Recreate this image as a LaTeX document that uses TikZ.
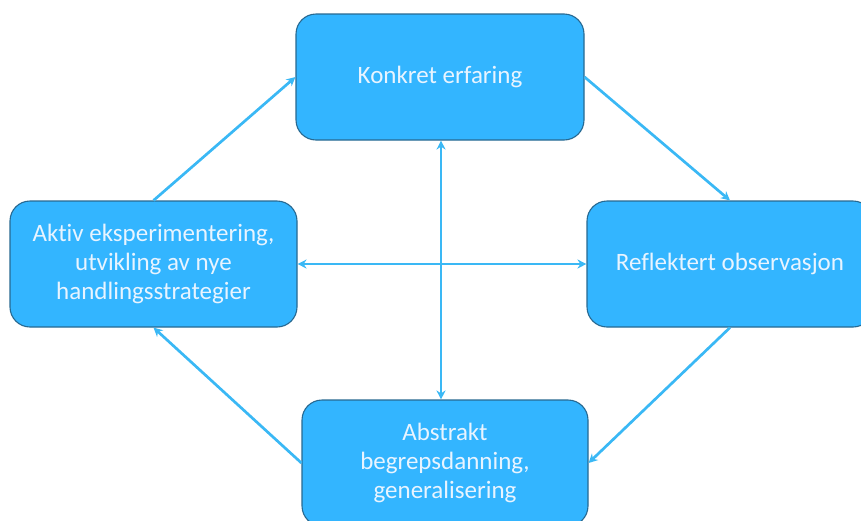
\documentclass[tikz,border=0pt]{standalone}
\usepackage{fontspec}
\setmainfont{Carlito}[Ligatures=NoCommon]
\usetikzlibrary{arrows.meta}
\definecolor{boxfill}{RGB}{51,181,255}
\definecolor{boxline}{RGB}{40,105,145}
\definecolor{arrowblue}{RGB}{58,184,245}
\definecolor{boxtext}{RGB}{232,244,255}
\begin{document}
\begin{tikzpicture}[x=1pt,y=-1pt,
  stage/.style={draw=boxline, line width=1.1pt, fill=boxfill, rounded corners=20pt,
    text=boxtext, align=center, font=\fontsize{25}{29}\selectfont,
    inner sep=0pt, minimum height=126pt},
  link/.style={draw=arrowblue, line width=2.7pt, -{Stealth[length=9pt,width=9pt]}},
  twoway/.style={link, {Stealth[length=9pt,width=9pt]}-{Stealth[length=9pt,width=9pt]}}]
\useasboundingbox (0,0) rectangle (861,520);
\clip (0,0) rectangle (861,520);

% the four stages of the learning cycle
\node[stage, minimum width=288pt] (top)    at (440,77)    {Konkret erfaring};
\node[stage, minimum width=287pt] (left)   at (153.5,264) {Aktiv eksperimentering,\\utvikling av nye\\handlingsstrategier};
\node[stage, minimum width=286pt] (right)  at (730,264)   {Reflektert observasjon};
\node[stage, minimum width=286pt] (bottom) at (445,463)   {Abstrakt\\begrepsdanning,\\generalisering};

% cycle arrows
\draw[link] (left.north) -- (top.west);
\draw[link] (top.east) -- (right.north);
\draw[link] (right.south) -- (bottom.east);
\draw[link] (bottom.west) -- (left.south);

% cross connections
\draw[twoway] ([xshift=1pt]top.south) -- ([xshift=1pt]top.south |- bottom.north);
\draw[twoway] (left.east) -- (right.west);
\end{tikzpicture}
\end{document}
